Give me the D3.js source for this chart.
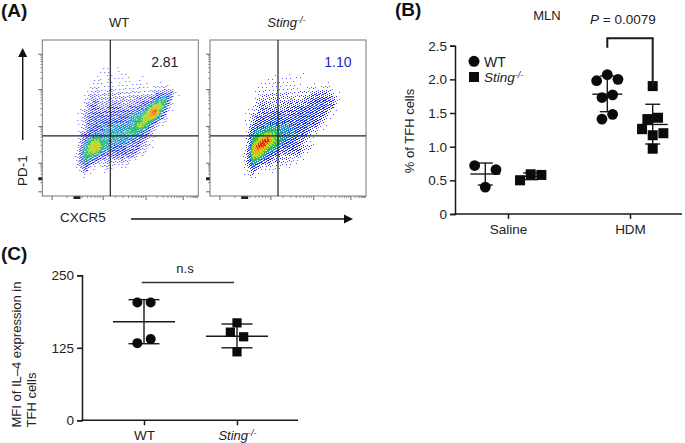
<!DOCTYPE html>
<html><head><meta charset="utf-8">
<script src="https://cdn.jsdelivr.net/npm/d3@7/dist/d3.min.js"></script>
<style>
html,body{margin:0;padding:0;background:#fff}
svg{display:block}
text{font-family:"Liberation Sans",Arial,sans-serif;fill:#222}
</style></head><body>
<svg id="chart" width="685" height="443" xmlns="http://www.w3.org/2000/svg"></svg>
<script>
// ---------- Panel A : flow cytometry density (0 = no events, 9 = hottest) ----------
const flowWT = [
"000000110100000000000",
"000001010110000000000",
"000011010111010000000",
"000111111111111011100",
"000121121111111122331",
"001222222222222234541",
"001232222222233356620",
"001332233323334678520",
"012333333333445896310",
"012343333444567885200",
"012344444445667642100",
"012344445555676421000",
"012444555556654310000",
"023455556555543210000",
"024676655554432100000",
"025787554443332100000",
"036776444443321000000",
"036654333333210000000",
"035432222221000000000",
"024211211110000000000",
"013100100000000000000",
"001000000000000000000"];
const flowSting = [
"000000000000000000000",
"000000100100100000000",
"000000101110000000000",
"000011111111011011000",
"000111111111112222100",
"000122222221223333210",
"000222222222233443310",
"001232222333334443300",
"011233333334444433100",
"012333444334444332000",
"012344444444444320000",
"013445555544443210000",
"014556665554432100000",
"025678765544321000000",
"026799765443210000000",
"027997654443221000000",
"038875543333210000000",
"037764332222100000000",
"036543222211000000000",
"025322111100000000000",
"013100100000000000000",
"012000000000000000000"];
const flowLevels = [1,2,3,4,5,6,7,8,9];
const flowColors = ["#5a5aff","#2c2cfa","#1414ea","#1a3ce8","#2098cc","#30c070","#b4dc20","#f4a818","#e82c14"];
const flowCoverLevels = [0,1,2,3,4,5,6];
const flowCover = [0,0.07,0.2,0.38,0.55,0.75,1];
const flowPanels = ["WT","Sting"];
const flowGrids = [flowWT, flowSting];
const flowLabels = ["2.81","1.10"];
const flowMajorX = [0.06,0.387,0.662,0.9];
const flowMajorY = [0.088,0.315,0.552,0.787,0.97];

// ---------- Panel B ----------
const bGroups = ["Saline","HDM"];
const bTicks = [0,0.5,1,1.5,2,2.5];
const bSalineWT = [0.72,0.40,0.66];
const bSalineWTSwarm = [-2,0,2];
const bSalineSting = [0.50,0.59,0.58];
const bSalineStingSwarm = [-2,0,2];
const bHdmWT = [2.07,1.98,2.00,1.73,1.77,1.41,1.48];
const bHdmWTSwarm = [0,-2,2,-1,1,-1,1];
const bHdmSting = [1.90,1.41,1.43,1.26,1.17,1.20,0.97];
const bHdmStingSwarm = [0,-1,1,-2,0,2,0];
const bSummary = [ // group, genotype, mean, low, high
  ["Saline","WT",0.594,0.43,0.757],
  ["Saline","Sting",0.56,0.51,0.61],
  ["HDM","WT",1.78,1.52,2.05],
  ["HDM","Sting",1.33,1.04,1.63]];

// ---------- Panel C ----------
const cGroups = ["WT","Sting"];
const cTicks = [0,125,250];
const cWT = [203,203,133,140];
const cWTSwarm = [-1,1,-1,1];
const cSting = [168,152,144,118];
const cStingSwarm = [0,-1,1,0];
const cSummary = [["WT",170,132,208],["Sting",145,125,166]];

const ink = "#1a1a1a";
const svg = d3.select("#chart");
const defs = svg.append("defs");

function sting(sel, size, supSize){
  sel.attr("font-style","italic").attr("font-size",size);
  sel.append("tspan").text("Sting");
  sel.append("tspan").attr("font-size",supSize).attr("dy",-4).text("-/-");
}
function panelLabel(t,x,y){
  svg.append("text").attr("x",x).attr("y",y).attr("font-size",19).attr("font-weight","bold").style("fill","#111").text(t);
}
panelLabel("(A)",1,17); panelLabel("(B)",395,16); panelLabel("(C)",1,260);

defs.append("filter").attr("id","soft").attr("x",0).attr("y",0).attr("width",1).attr("height",1)
  .attr("color-interpolation-filters","sRGB")
  .append("feGaussianBlur").attr("stdDeviation",0.5);

const flowW = 156, flowH = 156;
const flowOrigins = d3.scalePoint().domain(flowPanels).range([42.3,210]);
const coverage = d3.scaleLinear(flowCoverLevels, flowCover).clamp(true);
const frac = v => v - Math.floor(v);

flowPanels.forEach((name,pi)=>{
  const g = svg.append("g").attr("transform",`translate(${flowOrigins(name)},40)`);
  const grid = flowGrids[pi].map(s=>s.split("").map(Number));
  const col = d3.scaleLinear([0,grid[0].length],[30,135]);
  const row = d3.scaleLinear([0,grid.length],[28,138]);
  const sample = (px,py)=>{
    const u = col.invert(px)-0.5, v = row.invert(py)-0.5;
    const c0=Math.floor(u), r0=Math.floor(v), fu=u-c0, fv=v-r0;
    const at=(r,c)=> (grid[r] && grid[r][c]) || 0;
    return d3.interpolateNumber(
      d3.interpolateNumber(at(r0,c0),at(r0,c0+1))(fu),
      d3.interpolateNumber(at(r0+1,c0),at(r0+1,c0+1))(fu))(fv);
  };
  // ordered (non-random) stipple: every pixel compares the read density with a fixed lattice threshold
  const byLevel = new Map(flowLevels.map(l=>[l,d3.path()]));
  for(let py=row(0)-4; py<row(grid.length)+4; py++){
    for(let px=col(0)-4; px<col(grid[0].length)+4; px++){
      const d = sample(px,py);
      if(d<=0) continue;
      if(frac(px*0.7549+py*0.5698) >= coverage(d)) continue;
      const lvl = Math.max(1,Math.min(9,Math.round(d + (frac(px*0.3247+py*0.8191)-0.5)*1.1)));
      byLevel.get(lvl).rect(px,py,1,1);
    }
  }
  const layer = g.append("g").attr("filter","url(#soft)");
  layer.append("rect").attr("width",flowW).attr("height",flowH).attr("fill","#fff");
  layer.selectAll("path").data(flowLevels).join("path")
    .attr("d",l=>byLevel.get(l).toString()).attr("fill",(l,i)=>flowColors[i]);

  const fx = d3.scaleLinear([0,1],[0,flowW]);
  const fy = d3.scaleLinear([0,1],[0,flowH]);
  // log-style ticks outside the frame
  const minorSteps = d3.range(2,10).map(k=>Math.log10(k));
  const xMinor = [], yMinor = [];
  flowMajorX.forEach((m,i)=>{ const next = flowMajorX[i+1]; const span = next? next-m : 0.1;
    minorSteps.forEach(k=>xMinor.push(m+span*k)); });
  flowMajorY.forEach((m,i)=>{ const next = flowMajorY[i+1]; if(next) minorSteps.forEach(k=>yMinor.push(next-(next-m)*k)); });
  const tickStroke = "#666";
  const ax = g.append("g").attr("transform",`translate(0,${flowH})`);
  ax.call(d3.axisBottom(fx).tickValues(flowMajorX).tickSize(4).tickFormat(""));
  const ay = g.append("g");
  ay.call(d3.axisLeft(fy).tickValues(flowMajorY).tickSize(4).tickFormat(""));
  [ax,ay].forEach(a=>{a.select(".domain").remove(); a.selectAll("line").attr("stroke",tickStroke).attr("stroke-width",1);});
  ax.selectAll("line.minor").data(xMinor).join("line").attr("class","minor").attr("x1",fx).attr("x2",fx).attr("y2",2).attr("stroke",tickStroke).attr("stroke-width",0.7);
  ay.selectAll("line.minor").data(yMinor).join("line").attr("class","minor").attr("y1",fy).attr("y2",fy).attr("x2",-2).attr("stroke",tickStroke).attr("stroke-width",0.7);
  // the piled-up ticks around zero
  ax.append("rect").attr("x",fx(0.2)).attr("y",0).attr("width",7).attr("height",3).attr("fill","#222");
  ay.append("rect").attr("x",-4).attr("y",fy(0.88)).attr("width",4).attr("height",3).attr("fill","#222");

  g.append("rect").attr("width",flowW).attr("height",flowH).attr("fill","none").attr("stroke","#777").attr("stroke-width",1);
  g.append("line").attr("x1",fx(0.436)).attr("x2",fx(0.436)).attr("y1",0).attr("y2",flowH).attr("stroke","#222").attr("stroke-width",1.2);
  g.append("line").attr("x1",0).attr("x2",flowW).attr("y1",fy(0.615)).attr("y2",fy(0.615)).attr("stroke","#222").attr("stroke-width",1.2);
  g.append("text").attr("x",fx(pi?0.82:0.785)).attr("y",27).attr("text-anchor","middle").attr("font-size",14)
    .style("fill",pi?"#2222cc":"#222").text(flowLabels[pi]);
  if(pi===0){
    g.append("text").attr("x",fx(0.493)).attr("y",-13).attr("text-anchor","middle").attr("font-size",13).text("WT");
  } else {
    g.append("text").attr("x",fx(0.49)).attr("y",-13).attr("text-anchor","middle").call(sting,13,9);
  }
});

// arrows
function arrow(x1,y1,x2,y2){
  const a = Math.atan2(y2-y1,x2-x1), L=9, W=4.5;
  svg.append("line").attr("x1",x1).attr("y1",y1).attr("x2",x2-Math.cos(a)*L).attr("y2",y2-Math.sin(a)*L).attr("stroke","#111").attr("stroke-width",1.4);
  const p=[[x2,y2],[x2-Math.cos(a)*L-Math.sin(a)*W,y2-Math.sin(a)*L+Math.cos(a)*W],[x2-Math.cos(a)*L+Math.sin(a)*W,y2-Math.sin(a)*L-Math.cos(a)*W]];
  svg.append("polygon").attr("points",p.map(d=>d.join(",")).join(" ")).attr("fill","#111");
}
arrow(22.7,140,22.7,48);
arrow(131,219,353,219);
svg.append("text").attr("transform","translate(27,186) rotate(-90)").attr("font-size",13.5).text("PD-1");
svg.append("text").attr("x",60).attr("y",222).attr("font-size",13.5).text("CXCR5");

// ---------- shared scatter drawing ----------
function axesFor(g,x,y,ticks,fmt,x0,x1){
  const ya = g.append("g").attr("transform",`translate(${x0},0)`).call(d3.axisLeft(y).tickValues(ticks).tickSize(5).tickPadding(3).tickFormat(fmt));
  const xa = g.append("g").attr("transform",`translate(0,${y(0)})`).call(d3.axisBottom(x).tickSize(5).tickPadding(5));
  xa.select(".domain").remove();
  xa.append("line").attr("x1",x0-0.7).attr("x2",x1).attr("stroke",ink).attr("stroke-width",1.5);
  [ya,xa].forEach(a=>{
    a.selectAll("path.domain").attr("stroke",ink).attr("stroke-width",1.5);
    a.selectAll(".tick line").attr("stroke",ink).attr("stroke-width",1.5);
    a.selectAll("text").attr("font-size",13.5).attr("font-family",null).style("fill","#222");
  });
  return [xa,ya];
}
function summary(g,cx,y,mean,low,high,meanHalf,capHalf){
  const seg=(x1,x2,v1,v2,w)=>g.append("line").attr("x1",x1).attr("x2",x2).attr("y1",y(v1)).attr("y2",y(v2)).attr("stroke",ink).attr("stroke-width",w);
  seg(cx,cx,low,high,1.4);
  seg(cx-meanHalf,cx+meanHalf,mean,mean,1.4);
  seg(cx-capHalf,cx+capHalf,low,low,1.4);
  seg(cx-capHalf,cx+capHalf,high,high,1.4);
}
function marks(g,kind,cx,unit,y,vals,swarm,r){
  const pts = vals.map((v,i)=>({v,s:swarm[i]}));
  if(kind==="WT"){
    g.selectAll(null).data(pts).join("circle").attr("cx",d=>cx+d.s*unit).attr("cy",d=>y(d.v)).attr("r",r).attr("fill","#0a0a0a");
  } else {
    g.selectAll(null).data(pts).join("rect").attr("x",d=>cx+d.s*unit-r).attr("y",d=>y(d.v)-r).attr("width",2*r).attr("height",2*r).attr("fill","#0a0a0a");
  }
}

// ---------- Panel B ----------
{
  const g = svg.append("g");
  const x = d3.scalePoint().domain(bGroups).range([508,630]);
  const y = d3.scaleLinear([0,2.5],[214,45.7]);
  const geno = d3.scalePoint().domain(["WT","Sting"]).range([-22.7,22.7]);
  axesFor(g,x,y,bTicks,d=>d===0?"0":d3.format(".1f")(d),455,682);
  const series = [
    ["Saline","WT",bSalineWT,bSalineWTSwarm],
    ["Saline","Sting",bSalineSting,bSalineStingSwarm],
    ["HDM","WT",bHdmWT,bHdmWTSwarm],
    ["HDM","Sting",bHdmSting,bHdmStingSwarm]];
  bSummary.forEach(s=>summary(g,x(s[0])+geno(s[1]),y,s[2],s[3],s[4],15,7.5));
  series.forEach(s=>marks(g,s[1],x(s[0])+geno(s[1]),5.33,y,s[2],s[3],s[1]==="WT"?5.4:5));
  g.append("text").attr("transform","translate(414,131) rotate(-90)").attr("text-anchor","middle").attr("font-size",13).text("% of TFH cells");
  // legend
  g.append("circle").attr("cx",474).attr("cy",61.3).attr("r",5.5).attr("fill","#0a0a0a");
  g.append("rect").attr("x",469).attr("y",72).attr("width",10).attr("height",10).attr("fill","#0a0a0a");
  g.append("text").attr("x",484).attr("y",66.5).attr("font-size",14).text("WT");
  g.append("text").attr("x",484).attr("y",82).call(sting,13.5,9);
  // title and bracket
  g.append("text").attr("x",547).attr("y",19.5).attr("text-anchor","middle").attr("font-size",13).text("MLN");
  const pt = g.append("text").attr("x",590).attr("y",24).attr("font-size",13.5);
  pt.append("tspan").attr("font-style","italic").text("P");
  pt.append("tspan").text(" = 0.0079");
  const xl = x("HDM")+geno("WT"), xr = x("HDM")+geno("Sting");
  g.append("path").attr("fill","none").attr("stroke",ink).attr("stroke-width",2)
    .attr("d",d3.line()([[xl,y(2.47)],[xl,y(2.61)],[xr,y(2.61)],[xr,y(1.9)]]));
}

// ---------- Panel C ----------
{
  const g = svg.append("g");
  const x = d3.scalePoint().domain(cGroups).range([144,237]);
  const y = d3.scaleLinear([0,250],[420.3,275.3]);
  const [xa] = axesFor(g,x,y,cTicks,d3.format("d"),82,298);
  xa.selectAll(".tick text").each(function(d){
    if(d==="Sting"){ const t=d3.select(this); t.text(null); t.call(sting,13,9); }
  });
  summary(g,x("WT"),y,cSummary[0][1],cSummary[0][2],cSummary[0][3],31,15.5);
  summary(g,x("Sting"),y,cSummary[1][1],cSummary[1][2],cSummary[1][3],31,15.5);
  marks(g,"WT",x("WT"),6.67,y,cWT,cWTSwarm,5);
  marks(g,"Sting",x("Sting"),6.67,y,cSting,cStingSwarm,4.6);
  g.append("line").attr("x1",141.7).attr("x2",234).attr("y1",y(237.5)).attr("y2",y(237.5)).attr("stroke","#333").attr("stroke-width",1.5);
  g.append("text").attr("x",185).attr("y",272.5).attr("text-anchor","middle").attr("font-size",13).text("n.s");
  const lab = g.append("text").attr("font-size",13).attr("transform","translate(0,427.5) rotate(-90)");
  lab.append("tspan").attr("x",0).attr("y",21).text("MFI of IL–4 expression in");
  lab.append("tspan").attr("x",0).attr("y",36).text("TFH cells");
}
</script>
</body></html>
